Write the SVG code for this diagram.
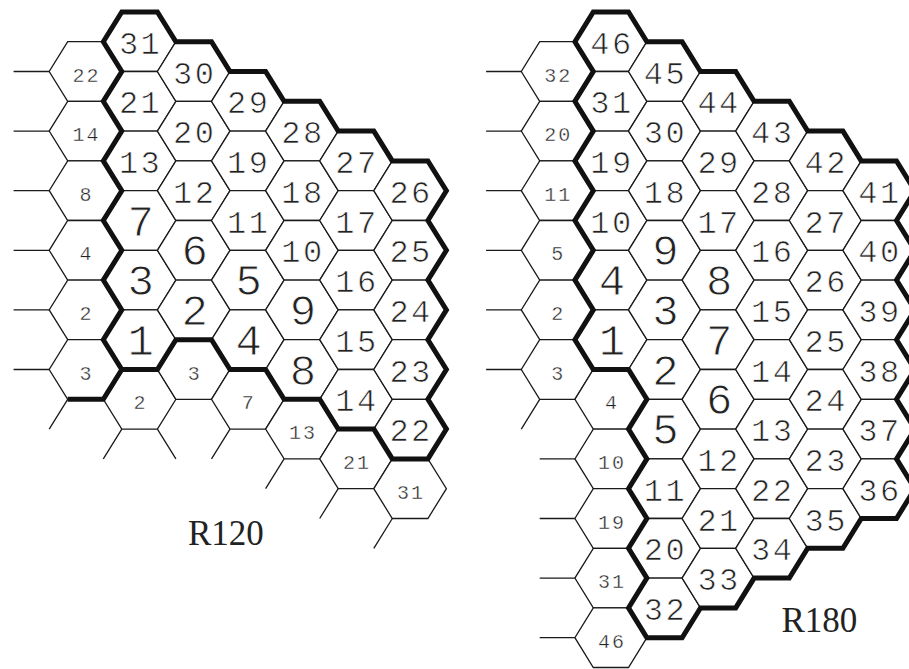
<svg xmlns="http://www.w3.org/2000/svg" xmlns:xlink="http://www.w3.org/1999/xlink" width="909" height="669" viewBox="0 0 909 669">
<style>
.hex{fill:#fff;stroke:#1a1a1a;stroke-width:1.3;stroke-linejoin:miter}
.stub{fill:none;stroke:#1a1a1a;stroke-width:1.3}
.thick{fill:none;stroke:#111;stroke-width:5;stroke-linejoin:miter;stroke-miterlimit:10}
text{font-family:"Liberation Mono","DejaVu Sans Mono",monospace;fill:#222;text-anchor:middle}
.s{font-size:20px;letter-spacing:2px;stroke:#fff;stroke-width:0.4px}
.m{font-size:32px;letter-spacing:2.5px;stroke:#fff;stroke-width:0.7px}
.l{font-size:44px;stroke:#fff;stroke-width:0.9px}
.lab{font-family:"Liberation Serif","Times New Roman",serif;font-size:35px;text-anchor:start;fill:#222}
</style>
<defs>
<polygon id="hL" points="-17.8,-29.8 17.8,-29.8 36.3,0 17.8,29.8 -17.8,29.8 -36.3,0"/>
<polygon id="hR" points="-17.6,-29.8 17.6,-29.8 36,0 17.6,29.8 -17.6,29.8 -36,0"/>
</defs>
<g id="left-nodes">
<g id="L_c0_n0" transform="translate(85.5,71.5)"><use href="#hL" class="hex"/><text class="s" x="1" y="10">22</text></g>
<g id="L_c0_n2" transform="translate(85.5,131.1)"><use href="#hL" class="hex"/><text class="s" x="1" y="10">14</text></g>
<g id="L_c0_n4" transform="translate(85.5,190.7)"><use href="#hL" class="hex"/><text class="s" x="1" y="10">8</text></g>
<g id="L_c0_n6" transform="translate(85.5,250.3)"><use href="#hL" class="hex"/><text class="s" x="1" y="10">4</text></g>
<g id="L_c0_n8" transform="translate(85.5,309.9)"><use href="#hL" class="hex"/><text class="s" x="1" y="10">2</text></g>
<g id="L_c0_n10" transform="translate(85.5,369.5)"><use href="#hL" class="hex"/><text class="s" x="1" y="10">3</text></g>
<g id="L_c1_nm1" transform="translate(139.6,41.7)"><use href="#hL" class="hex"/><text class="m" x="1" y="12">31</text></g>
<g id="L_c1_n1" transform="translate(139.6,101.3)"><use href="#hL" class="hex"/><text class="m" x="1" y="12">21</text></g>
<g id="L_c1_n3" transform="translate(139.6,160.9)"><use href="#hL" class="hex"/><text class="m" x="1" y="12">13</text></g>
<g id="L_c1_n5" transform="translate(139.6,220.5)"><use href="#hL" class="hex"/><text class="l" x="1" y="15">7</text></g>
<g id="L_c1_n7" transform="translate(139.6,280.1)"><use href="#hL" class="hex"/><text class="l" x="1" y="15">3</text></g>
<g id="L_c1_n9" transform="translate(139.6,339.7)"><use href="#hL" class="hex"/><text class="l" x="1" y="15">1</text></g>
<g id="L_c1_n11" transform="translate(139.6,399.3)"><use href="#hL" class="hex"/><text class="s" x="1" y="10">2</text></g>
<g id="L_c2_n0" transform="translate(193.7,71.5)"><use href="#hL" class="hex"/><text class="m" x="1" y="12">30</text></g>
<g id="L_c2_n2" transform="translate(193.7,131.1)"><use href="#hL" class="hex"/><text class="m" x="1" y="12">20</text></g>
<g id="L_c2_n4" transform="translate(193.7,190.7)"><use href="#hL" class="hex"/><text class="m" x="1" y="12">12</text></g>
<g id="L_c2_n6" transform="translate(193.7,250.3)"><use href="#hL" class="hex"/><text class="l" x="1" y="15">6</text></g>
<g id="L_c2_n8" transform="translate(193.7,309.9)"><use href="#hL" class="hex"/><text class="l" x="1" y="15">2</text></g>
<g id="L_c2_n10" transform="translate(193.7,369.5)"><use href="#hL" class="hex"/><text class="s" x="1" y="10">3</text></g>
<g id="L_c3_n1" transform="translate(247.8,101.3)"><use href="#hL" class="hex"/><text class="m" x="1" y="12">29</text></g>
<g id="L_c3_n3" transform="translate(247.8,160.9)"><use href="#hL" class="hex"/><text class="m" x="1" y="12">19</text></g>
<g id="L_c3_n5" transform="translate(247.8,220.5)"><use href="#hL" class="hex"/><text class="m" x="1" y="12">11</text></g>
<g id="L_c3_n7" transform="translate(247.8,280.1)"><use href="#hL" class="hex"/><text class="l" x="1" y="15">5</text></g>
<g id="L_c3_n9" transform="translate(247.8,339.7)"><use href="#hL" class="hex"/><text class="l" x="1" y="15">4</text></g>
<g id="L_c3_n11" transform="translate(247.8,399.3)"><use href="#hL" class="hex"/><text class="s" x="1" y="10">7</text></g>
<g id="L_c4_n2" transform="translate(301.9,131.1)"><use href="#hL" class="hex"/><text class="m" x="1" y="12">28</text></g>
<g id="L_c4_n4" transform="translate(301.9,190.7)"><use href="#hL" class="hex"/><text class="m" x="1" y="12">18</text></g>
<g id="L_c4_n6" transform="translate(301.9,250.3)"><use href="#hL" class="hex"/><text class="m" x="1" y="12">10</text></g>
<g id="L_c4_n8" transform="translate(301.9,309.9)"><use href="#hL" class="hex"/><text class="l" x="1" y="15">9</text></g>
<g id="L_c4_n10" transform="translate(301.9,369.5)"><use href="#hL" class="hex"/><text class="l" x="1" y="15">8</text></g>
<g id="L_c4_n12" transform="translate(301.9,429.1)"><use href="#hL" class="hex"/><text class="s" x="1" y="10">13</text></g>
<g id="L_c5_n3" transform="translate(356,160.9)"><use href="#hL" class="hex"/><text class="m" x="1" y="12">27</text></g>
<g id="L_c5_n5" transform="translate(356,220.5)"><use href="#hL" class="hex"/><text class="m" x="1" y="12">17</text></g>
<g id="L_c5_n7" transform="translate(356,280.1)"><use href="#hL" class="hex"/><text class="m" x="1" y="12">16</text></g>
<g id="L_c5_n9" transform="translate(356,339.7)"><use href="#hL" class="hex"/><text class="m" x="1" y="12">15</text></g>
<g id="L_c5_n11" transform="translate(356,399.3)"><use href="#hL" class="hex"/><text class="m" x="1" y="12">14</text></g>
<g id="L_c5_n13" transform="translate(356,458.9)"><use href="#hL" class="hex"/><text class="s" x="1" y="10">21</text></g>
<g id="L_c6_n4" transform="translate(410.1,190.7)"><use href="#hL" class="hex"/><text class="m" x="1" y="12">26</text></g>
<g id="L_c6_n6" transform="translate(410.1,250.3)"><use href="#hL" class="hex"/><text class="m" x="1" y="12">25</text></g>
<g id="L_c6_n8" transform="translate(410.1,309.9)"><use href="#hL" class="hex"/><text class="m" x="1" y="12">24</text></g>
<g id="L_c6_n10" transform="translate(410.1,369.5)"><use href="#hL" class="hex"/><text class="m" x="1" y="12">23</text></g>
<g id="L_c6_n12" transform="translate(410.1,429.1)"><use href="#hL" class="hex"/><text class="m" x="1" y="12">22</text></g>
<g id="L_c6_n14" transform="translate(410.1,488.7)"><use href="#hL" class="hex"/><text class="s" x="1" y="10">31</text></g>
</g>
<g id="right-nodes">
<g id="R_c0_n0" transform="translate(557.3,71.5)"><use href="#hR" class="hex"/><text class="s" x="1" y="10">32</text></g>
<g id="R_c0_n2" transform="translate(557.3,131.1)"><use href="#hR" class="hex"/><text class="s" x="1" y="10">20</text></g>
<g id="R_c0_n4" transform="translate(557.3,190.7)"><use href="#hR" class="hex"/><text class="s" x="1" y="10">11</text></g>
<g id="R_c0_n6" transform="translate(557.3,250.3)"><use href="#hR" class="hex"/><text class="s" x="1" y="10">5</text></g>
<g id="R_c0_n8" transform="translate(557.3,309.9)"><use href="#hR" class="hex"/><text class="s" x="1" y="10">2</text></g>
<g id="R_c0_n10" transform="translate(557.3,369.5)"><use href="#hR" class="hex"/><text class="s" x="1" y="10">3</text></g>
<g id="R_c1_nm1" transform="translate(610.9,41.7)"><use href="#hR" class="hex"/><text class="m" x="1" y="12">46</text></g>
<g id="R_c1_n1" transform="translate(610.9,101.3)"><use href="#hR" class="hex"/><text class="m" x="1" y="12">31</text></g>
<g id="R_c1_n3" transform="translate(610.9,160.9)"><use href="#hR" class="hex"/><text class="m" x="1" y="12">19</text></g>
<g id="R_c1_n5" transform="translate(610.9,220.5)"><use href="#hR" class="hex"/><text class="m" x="1" y="12">10</text></g>
<g id="R_c1_n7" transform="translate(610.9,280.1)"><use href="#hR" class="hex"/><text class="l" x="1" y="15">4</text></g>
<g id="R_c1_n9" transform="translate(610.9,339.7)"><use href="#hR" class="hex"/><text class="l" x="1" y="15">1</text></g>
<g id="R_c1_n11" transform="translate(610.9,399.3)"><use href="#hR" class="hex"/><text class="s" x="1" y="10">4</text></g>
<g id="R_c1_n13" transform="translate(610.9,458.9)"><use href="#hR" class="hex"/><text class="s" x="1" y="10">10</text></g>
<g id="R_c1_n15" transform="translate(610.9,518.5)"><use href="#hR" class="hex"/><text class="s" x="1" y="10">19</text></g>
<g id="R_c1_n17" transform="translate(610.9,578.1)"><use href="#hR" class="hex"/><text class="s" x="1" y="10">31</text></g>
<g id="R_c1_n19" transform="translate(610.9,637.7)"><use href="#hR" class="hex"/><text class="s" x="1" y="10">46</text></g>
<g id="R_c2_n0" transform="translate(664.5,71.5)"><use href="#hR" class="hex"/><text class="m" x="1" y="12">45</text></g>
<g id="R_c2_n2" transform="translate(664.5,131.1)"><use href="#hR" class="hex"/><text class="m" x="1" y="12">30</text></g>
<g id="R_c2_n4" transform="translate(664.5,190.7)"><use href="#hR" class="hex"/><text class="m" x="1" y="12">18</text></g>
<g id="R_c2_n6" transform="translate(664.5,250.3)"><use href="#hR" class="hex"/><text class="l" x="1" y="15">9</text></g>
<g id="R_c2_n8" transform="translate(664.5,309.9)"><use href="#hR" class="hex"/><text class="l" x="1" y="15">3</text></g>
<g id="R_c2_n10" transform="translate(664.5,369.5)"><use href="#hR" class="hex"/><text class="l" x="1" y="15">2</text></g>
<g id="R_c2_n12" transform="translate(664.5,429.1)"><use href="#hR" class="hex"/><text class="l" x="1" y="15">5</text></g>
<g id="R_c2_n14" transform="translate(664.5,488.7)"><use href="#hR" class="hex"/><text class="m" x="1" y="12">11</text></g>
<g id="R_c2_n16" transform="translate(664.5,548.3)"><use href="#hR" class="hex"/><text class="m" x="1" y="12">20</text></g>
<g id="R_c2_n18" transform="translate(664.5,607.9)"><use href="#hR" class="hex"/><text class="m" x="1" y="12">32</text></g>
<g id="R_c3_n1" transform="translate(718.1,101.3)"><use href="#hR" class="hex"/><text class="m" x="1" y="12">44</text></g>
<g id="R_c3_n3" transform="translate(718.1,160.9)"><use href="#hR" class="hex"/><text class="m" x="1" y="12">29</text></g>
<g id="R_c3_n5" transform="translate(718.1,220.5)"><use href="#hR" class="hex"/><text class="m" x="1" y="12">17</text></g>
<g id="R_c3_n7" transform="translate(718.1,280.1)"><use href="#hR" class="hex"/><text class="l" x="1" y="15">8</text></g>
<g id="R_c3_n9" transform="translate(718.1,339.7)"><use href="#hR" class="hex"/><text class="l" x="1" y="15">7</text></g>
<g id="R_c3_n11" transform="translate(718.1,399.3)"><use href="#hR" class="hex"/><text class="l" x="1" y="15">6</text></g>
<g id="R_c3_n13" transform="translate(718.1,458.9)"><use href="#hR" class="hex"/><text class="m" x="1" y="12">12</text></g>
<g id="R_c3_n15" transform="translate(718.1,518.5)"><use href="#hR" class="hex"/><text class="m" x="1" y="12">21</text></g>
<g id="R_c3_n17" transform="translate(718.1,578.1)"><use href="#hR" class="hex"/><text class="m" x="1" y="12">33</text></g>
<g id="R_c4_n2" transform="translate(771.7,131.1)"><use href="#hR" class="hex"/><text class="m" x="1" y="12">43</text></g>
<g id="R_c4_n4" transform="translate(771.7,190.7)"><use href="#hR" class="hex"/><text class="m" x="1" y="12">28</text></g>
<g id="R_c4_n6" transform="translate(771.7,250.3)"><use href="#hR" class="hex"/><text class="m" x="1" y="12">16</text></g>
<g id="R_c4_n8" transform="translate(771.7,309.9)"><use href="#hR" class="hex"/><text class="m" x="1" y="12">15</text></g>
<g id="R_c4_n10" transform="translate(771.7,369.5)"><use href="#hR" class="hex"/><text class="m" x="1" y="12">14</text></g>
<g id="R_c4_n12" transform="translate(771.7,429.1)"><use href="#hR" class="hex"/><text class="m" x="1" y="12">13</text></g>
<g id="R_c4_n14" transform="translate(771.7,488.7)"><use href="#hR" class="hex"/><text class="m" x="1" y="12">22</text></g>
<g id="R_c4_n16" transform="translate(771.7,548.3)"><use href="#hR" class="hex"/><text class="m" x="1" y="12">34</text></g>
<g id="R_c5_n3" transform="translate(825.3,160.9)"><use href="#hR" class="hex"/><text class="m" x="1" y="12">42</text></g>
<g id="R_c5_n5" transform="translate(825.3,220.5)"><use href="#hR" class="hex"/><text class="m" x="1" y="12">27</text></g>
<g id="R_c5_n7" transform="translate(825.3,280.1)"><use href="#hR" class="hex"/><text class="m" x="1" y="12">26</text></g>
<g id="R_c5_n9" transform="translate(825.3,339.7)"><use href="#hR" class="hex"/><text class="m" x="1" y="12">25</text></g>
<g id="R_c5_n11" transform="translate(825.3,399.3)"><use href="#hR" class="hex"/><text class="m" x="1" y="12">24</text></g>
<g id="R_c5_n13" transform="translate(825.3,458.9)"><use href="#hR" class="hex"/><text class="m" x="1" y="12">23</text></g>
<g id="R_c5_n15" transform="translate(825.3,518.5)"><use href="#hR" class="hex"/><text class="m" x="1" y="12">35</text></g>
<g id="R_c6_n4" transform="translate(878.9,190.7)"><use href="#hR" class="hex"/><text class="m" x="1" y="12">41</text></g>
<g id="R_c6_n6" transform="translate(878.9,250.3)"><use href="#hR" class="hex"/><text class="m" x="1" y="12">40</text></g>
<g id="R_c6_n8" transform="translate(878.9,309.9)"><use href="#hR" class="hex"/><text class="m" x="1" y="12">39</text></g>
<g id="R_c6_n10" transform="translate(878.9,369.5)"><use href="#hR" class="hex"/><text class="m" x="1" y="12">38</text></g>
<g id="R_c6_n12" transform="translate(878.9,429.1)"><use href="#hR" class="hex"/><text class="m" x="1" y="12">37</text></g>
<g id="R_c6_n14" transform="translate(878.9,488.7)"><use href="#hR" class="hex"/><text class="m" x="1" y="12">36</text></g>
</g>
<g id="connectors">
<path class="stub" d="M13.6,71.5H49.2M13.6,131.1H49.2M13.6,190.7H49.2M13.6,250.3H49.2M13.6,309.9H49.2M13.6,369.5H49.2M67.7,399.3L49.2,429.1M121.8,429.1L103.3,458.9M157.4,429.1L175.9,458.9M230,429.1L211.5,458.9M284.1,458.9L265.6,488.7M338.2,488.7L319.7,518.5M392.3,518.5L373.8,548.3"/>
<path class="stub" d="M486.1,71.5H521.3M486.1,131.1H521.3M486.1,190.7H521.3M486.1,250.3H521.3M486.1,309.9H521.3M486.1,369.5H521.3M539.7,399.3L521.3,429.1M539.7,458.9H574.9M539.7,518.5H574.9M539.7,578.1H574.9M539.7,637.7H574.9"/>
<path class="thick" d="M103.3,41.7L121.8,11.9L157.4,11.9L175.9,41.7L211.5,41.7L230,71.5L265.6,71.5L284.1,101.3L319.7,101.3L338.2,131.1L373.8,131.1L392.3,160.9L427.9,160.9L446.4,190.7L427.9,220.5L446.4,250.3L427.9,280.1L446.4,309.9L427.9,339.7L446.4,369.5L427.9,399.3L446.4,429.1L427.9,458.9L392.3,458.9L373.8,429.1L338.2,429.1L319.7,399.3L284.1,399.3L265.6,369.5L230,369.5L211.5,339.7L175.9,339.7L157.4,369.5L121.8,369.5L103.3,339.7L121.8,309.9L103.3,280.1L121.8,250.3L103.3,220.5L121.8,190.7L103.3,160.9L121.8,131.1L103.3,101.3L121.8,71.5Z"/>
<path class="thick" d="M121.8,369.5L103.3,399.3L67.7,399.3"/>
<path class="thick" d="M574.9,41.7L593.3,11.9L628.5,11.9L646.9,41.7L682.1,41.7L700.5,71.5L735.7,71.5L754.1,101.3L789.3,101.3L807.7,131.1L842.9,131.1L861.3,160.9L896.5,160.9L914.9,190.7L896.5,220.5L914.9,250.3L896.5,280.1L914.9,309.9L896.5,339.7L914.9,369.5L896.5,399.3L914.9,429.1L896.5,458.9L914.9,488.7L896.5,518.5L861.3,518.5L842.9,548.3L807.7,548.3L789.3,578.1L754.1,578.1L735.7,607.9L700.5,607.9L682.1,637.7L646.9,637.7L628.5,607.9L646.9,578.1L628.5,548.3L646.9,518.5L628.5,488.7L646.9,458.9L628.5,429.1L646.9,399.3L628.5,369.5L593.3,369.5L574.9,339.7L593.3,309.9L574.9,280.1L593.3,250.3L574.9,220.5L593.3,190.7L574.9,160.9L593.3,131.1L574.9,101.3L593.3,71.5Z"/>
</g>
<text class="lab" x="188" y="545">R120</text>
<text class="lab" x="781.5" y="631.5">R180</text>
</svg>
